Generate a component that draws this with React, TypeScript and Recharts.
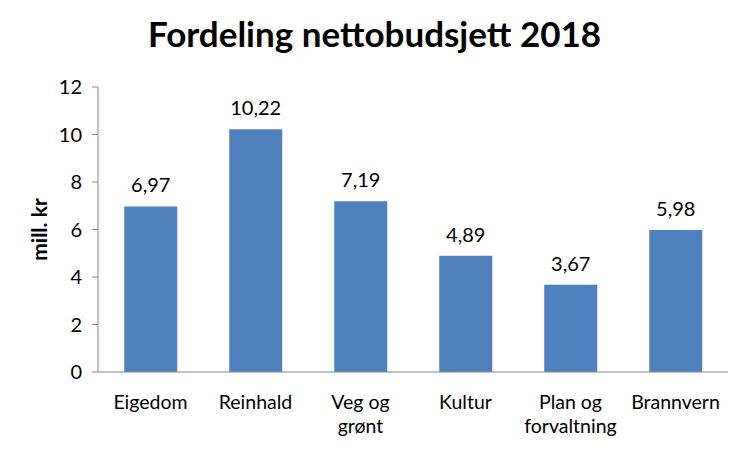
import { BarChart, Bar, XAxis, YAxis, LabelList, Text } from "recharts";

// values (mill. kr)
const categories = ["Eigedom", "Reinhald", "Veg og grønt", "Kultur", "Plan og forvaltning", "Brannvern"];
const budget = [6.97, 10.22, 7.19, 4.89, 3.67, 5.98];
const yTicks = [0, 2, 4, 6, 8, 10, 12];

const chartData = categories.map((name, i) => ({ name, value: budget[i] }));
const boundaryTicks = categories.map((_, i) => i).concat(categories.length);

const FONT = "Lato, 'Open Sans', sans-serif";
const AXIS_COLOR = "#868686";

// comma as decimal separator, Norwegian style
const commaFormatter = (v: number) => v.toFixed(2).replace(".", ",");

const CategoryTick = (props: any) => {
  const { x, y, payload } = props;
  return (
    <Text
      x={x}
      y={y}
      width={88}
      textAnchor="middle"
      verticalAnchor="start"
      lineHeight={24}
      style={{ fontFamily: FONT, fontSize: 19.5, fill: "#000" }}
    >
      {payload.value}
    </Text>
  );
};

export default function App() {
  return (
    <div style={{ position: "absolute", left: 0, top: 0, width: 749, height: 450, background: "#fff" }}>
      <div
        style={{
          position: "absolute",
          left: 0,
          top: 12,
          width: 749,
          textAlign: "center",
          fontFamily: FONT,
          fontWeight: 700,
          fontSize: 35,
          color: "#000",
        }}
      >
        Fordeling nettobudsjett 2018
      </div>
      <BarChart
        width={749}
        height={450}
        data={chartData}
        margin={{ top: 87, right: 21, bottom: 0, left: 0 }}
        barCategoryGap="25%"
      >
        <XAxis
          xAxisId="bounds"
          type="number"
          domain={[0, categories.length]}
          ticks={boundaryTicks}
          tick={false}
          tickSize={6}
          axisLine={false}
          stroke={AXIS_COLOR}
          height={0}
        />
        <XAxis
          xAxisId="cat"
          dataKey="name"
          tickLine={false}
          tickSize={0}
          tickMargin={23}
          height={78}
          stroke={AXIS_COLOR}
          tick={<CategoryTick />}
          interval={0}
        />
        <YAxis
          domain={[0, 12]}
          ticks={yTicks}
          width={98}
          tickSize={6}
          tickMargin={10}
          stroke={AXIS_COLOR}
          tick={{ fill: "#000", fontSize: 20, fontFamily: FONT }}
          label={{
            value: "mill. kr",
            angle: -90,
            position: "insideLeft",
            offset: 40,
            style: { textAnchor: "middle", fontFamily: FONT, fontWeight: 700, fontSize: 21, fill: "#000" },
          }}
        />
        <Bar dataKey="value" xAxisId="cat" fill="#4F81BD" isAnimationActive={false}>
          <LabelList
            dataKey="value"
            position="top"
            offset={14}
            formatter={commaFormatter}
            style={{ fontFamily: FONT, fontSize: 20, fill: "#000" }}
          />
        </Bar>
      </BarChart>
    </div>
  );
}
